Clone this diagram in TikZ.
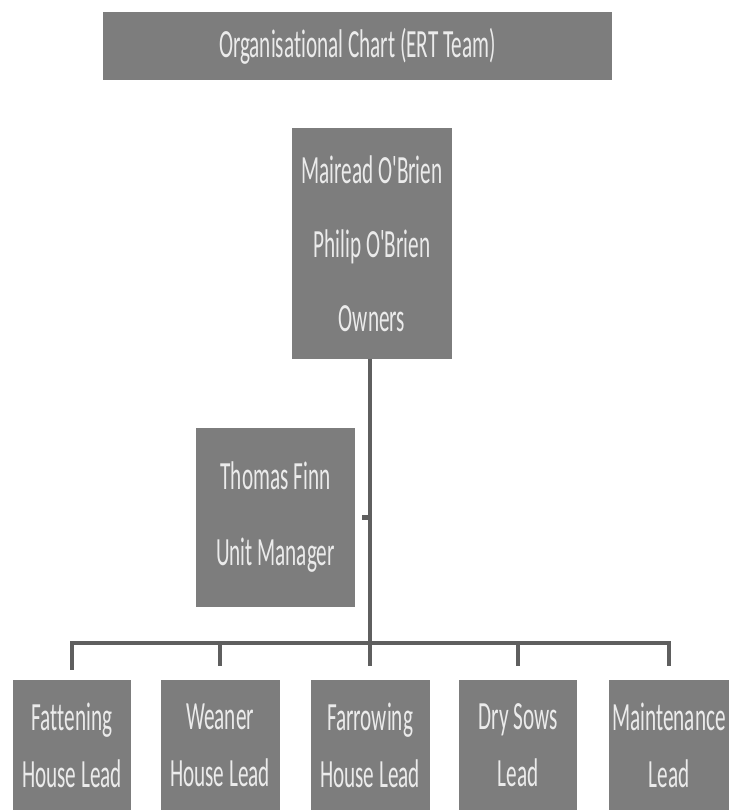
\documentclass[tikz,border=0pt]{standalone}
\usepackage{fontspec}
\newfontfamily\chartfont[FakeStretch=0.53,Ligatures=NoCommon]{Carlito}
\usetikzlibrary{positioning}

\definecolor{boxgray}{RGB}{125,125,125}
\definecolor{linegray}{RGB}{95,95,95}

\begin{document}
\begin{tikzpicture}[x=0.75pt,y=-0.75pt,
			box/.style={draw=none, fill=boxgray, text=white!92!black, align=center, inner sep=0pt},
			link/.style={draw=linegray, line width=2.4pt}]
			\useasboundingbox (0,0) rectangle (730,811);
			\node[box, minimum width=381.75pt, minimum height=51pt, font=\chartfont\fontsize{30}{36}\selectfont] (title) at (357.5,46) {Organisational Chart (ERT Team)};
			\node[box, minimum width=120pt, minimum height=173.25pt, font=\chartfont\fontsize{30}{55.5}\selectfont] (owners) at (372,243.5) {Mairead O'Brien\\Philip O'Brien\\Owners};
			\node[box, minimum width=119.25pt, minimum height=134.25pt, font=\chartfont\fontsize{30}{57}\selectfont] (manager) at (275.5,517.5) {Thomas Finn\\Unit Manager};
			\node[box, minimum width=88.5pt, minimum height=97.5pt, font=\chartfont\fontsize{30}{42.75}\selectfont] (fattening) at (72,745) {Fattening\\House Lead};
			\node[box, minimum width=89.25pt, minimum height=97.5pt, font=\chartfont\fontsize{30}{42.75}\selectfont] (weaner) at (220,745) {Weaner\\House Lead};
			\node[box, minimum width=89.25pt, minimum height=97.5pt, font=\chartfont\fontsize{30}{42.75}\selectfont] (farrowing) at (370,745) {Farrowing\\House Lead};
			\node[box, minimum width=88.5pt, minimum height=97.5pt, font=\chartfont\fontsize{30}{42.75}\selectfont] (drysows) at (518,745) {Dry Sows\\Lead};
			\node[box, minimum width=90pt, minimum height=97.5pt, font=\chartfont\fontsize{30}{42.75}\selectfont] (maint) at (669,745) {Maintenance\\Lead};
			\coordinate (bus) at (370,643);
			\draw[link] (owners.south -| bus) -- (bus);
			\draw[link, line width=3.5pt, shorten >=5pt] (bus |- manager.east) -- (manager.east);
			\draw[link] (fattening.north) ++(0,-10) |- (bus) -| ([yshift=10]maint.north);
			\foreach \lead in {weaner,farrowing,drysows}
				\draw[link] (bus -| \lead.north) -- ([yshift=10]\lead.north);
\end{tikzpicture}
\end{document}
